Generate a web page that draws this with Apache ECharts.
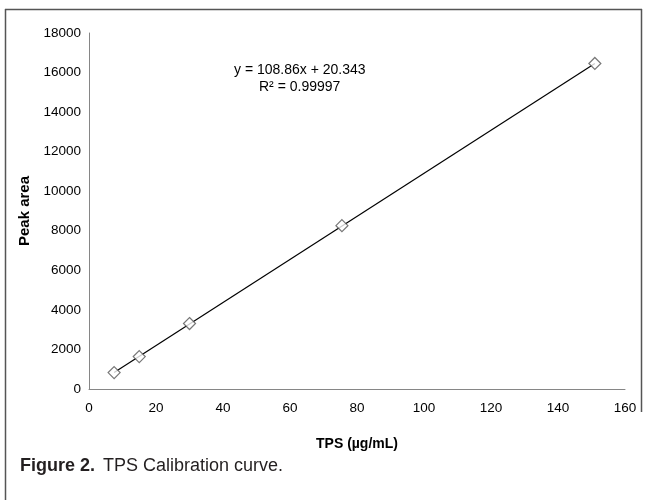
<!DOCTYPE html>
<html><head><meta charset="utf-8">
<script src="https://cdn.jsdelivr.net/npm/echarts@6/dist/echarts.min.js"></script>
<style>html,body{margin:0;padding:0;background:#fff}#c{width:648px;height:500px}</style>
</head><body><div id="c"></div>
<script>
var concX = [7.5, 15, 30, 75.5, 151];
var peakArea = [830, 1640, 3310, 8260, 16460];
var trendX = [7.5, 151];
var trendY = [837, 16458];
var xTicks = [0, 20, 40, 60, 80, 100, 120, 140, 160];
var yTicks = [0, 2000, 4000, 6000, 8000, 10000, 12000, 14000, 16000, 18000];

var chart = echarts.init(document.getElementById('c'), null, {renderer: 'canvas'});
var lbl = {color: '#000', fontFamily: 'Liberation Sans', fontSize: 13.5, formatter: function(v){return String(v);}};
chart.setOption({
  animation: false,
  grid: {left: 89, right: 23, top: 33, bottom: 111},
  xAxis: {
    type: 'value', min: 0, max: 160, interval: 20,
    axisLine: {lineStyle: {color: '#868686', width: 1}},
    axisTick: {show: false}, splitLine: {show: false},
    axisLabel: Object.assign({margin: 12}, lbl),
    name: 'TPS (µg/mL)', nameLocation: 'middle', nameGap: 48,
    nameTextStyle: {color: '#000', fontFamily: 'Liberation Sans', fontWeight: 'bold', fontSize: 14}
  },
  yAxis: {
    type: 'value', min: 0, max: 18000, interval: 2000,
    axisLine: {show: true, lineStyle: {color: '#868686', width: 1}},
    axisTick: {show: false}, splitLine: {show: false},
    axisLabel: Object.assign({margin: 8}, lbl),
    name: 'Peak area', nameLocation: 'middle', nameGap: 56, nameRotate: 90,
    nameTextStyle: {color: '#000', fontFamily: 'Liberation Sans', fontWeight: 'bold', fontSize: 15}
  },
  series: [
    {type: 'line', data: trendX.map(function(x, i){return [x, trendY[i]];}),
     showSymbol: false, lineStyle: {color: '#000', width: 1.2}, z: 2},
    {type: 'scatter', data: concX.map(function(x, i){return [x, peakArea[i]];}),
     symbol: 'diamond', symbolSize: 12,
     itemStyle: {color: '#fff', borderColor: '#555', borderWidth: 1.2}, z: 3}
  ],
  graphic: [
    {type: 'line', shape: {x1: 5, y1: 9.5, x2: 642, y2: 9.5}, style: {stroke: '#555', lineWidth: 1.5}},
    {type: 'line', shape: {x1: 5.5, y1: 9, x2: 5.5, y2: 500}, style: {stroke: '#555', lineWidth: 1.5}},
    {type: 'line', shape: {x1: 641.5, y1: 9, x2: 641.5, y2: 412}, style: {stroke: '#555', lineWidth: 1.5}},
    {type: 'text', left: 234, top: 63, style: {text: 'y = 108.86x + 20.343', fill: '#000', font: '14px "Liberation Sans"'}},
    {type: 'text', left: 259, top: 80, style: {text: 'R² = 0.99997', fill: '#000', font: '14px "Liberation Sans"'}},
    {type: 'text', left: 20, top: 457, style: {text: 'Figure 2.', fill: '#231f20', font: 'bold 18px "Liberation Sans Narrow", "Liberation Sans"'}},
    {type: 'text', left: 103, top: 457, style: {text: 'TPS Calibration curve.', fill: '#231f20', font: '18px "Liberation Sans Narrow", "Liberation Sans"'}}
  ]
});
</script></body></html>
